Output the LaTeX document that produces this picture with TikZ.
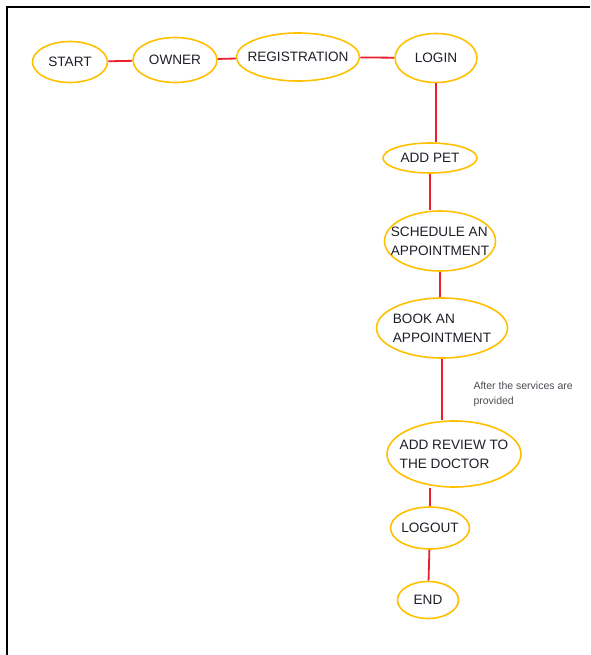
\documentclass[tikz,border=0pt]{standalone}
\usepackage{fontspec}
\setmainfont{Liberation Sans}
\usepackage{xcolor}
\usepackage{tikz}
\usetikzlibrary{shapes.geometric,positioning,calc}
\definecolor{ovalorange}{RGB}{255, 192, 0}
\definecolor{linkred}{RGB}{232, 32, 44}
\definecolor{textdark}{RGB}{30, 30, 40}

\begin{document}
\begin{tikzpicture}[
    x=1pt, y=-1pt,
    oval/.style={ellipse, draw=ovalorange, line width=1.6pt, inner xsep=-30pt, inner ysep=-12pt, align=left, font=\fontsize{13.6}{19}\selectfont, text=textdark},
    link/.style={draw=linkred, line width=1.8pt},
    note/.style={font=\fontsize{10.5}{15}\selectfont, align=left, text=textdark!80}
]
    \useasboundingbox (0,0) rectangle (590,655);

    % Frame
    \draw[line width=2.4pt] (7,655) -- (7,7) -- (590,7);

    % Top row
    \node[oval, minimum width=75pt, minimum height=41pt] (start) at (70,62) {START};
    \node[oval, minimum width=84pt, minimum height=45pt] (owner) at (175,60) {OWNER};
    \node[oval, minimum width=123pt, minimum height=48pt] (reg) at (298,57) {REGISTRATION};
    \node[oval, minimum width=82pt, minimum height=49pt] (login) at (436,58) {LOGIN};

    % Owner steps
    \node[oval, minimum width=94pt, minimum height=30pt] (addpet) at (430,158) {ADD PET};
    \node[oval, minimum width=111pt, minimum height=60pt] (schedule) at (440,241) {SCHEDULE AN\\APPOINTMENT};
    \node[oval, minimum width=131pt, minimum height=60pt] (book) at (442,328) {BOOK AN\\APPOINTMENT};
    \node[oval, minimum width=134pt, minimum height=66pt] (review) at (454,454) {ADD REVIEW TO\\THE DOCTOR};
    \node[oval, minimum width=79pt, minimum height=42pt] (logout) at (430,528) {LOGOUT};
    \node[oval, minimum width=61pt, minimum height=37pt] (end) at (428,600) {END};

    % Links
    \draw[link] (start) -- (owner);
    \draw[link] (owner) -- (reg);
    \draw[link] (reg) -- (login);
    \draw[link] (login.south) -- (login.south |- addpet.north);
    \draw[link] (addpet.south) -- (addpet.south |- schedule.north);
    \draw[link] (schedule.south) -- (schedule.south |- book.north);
    \draw[link] (book.south) -- (book.south |- review.north);
    \draw[link] (logout.north |- review.south) -- (logout.north);
    \draw[link] (logout) -- (end);

    % Note
    \node[note, anchor=north west] (after) at (470,378) {After the services are\\provided};

\end{tikzpicture}
\end{document}
